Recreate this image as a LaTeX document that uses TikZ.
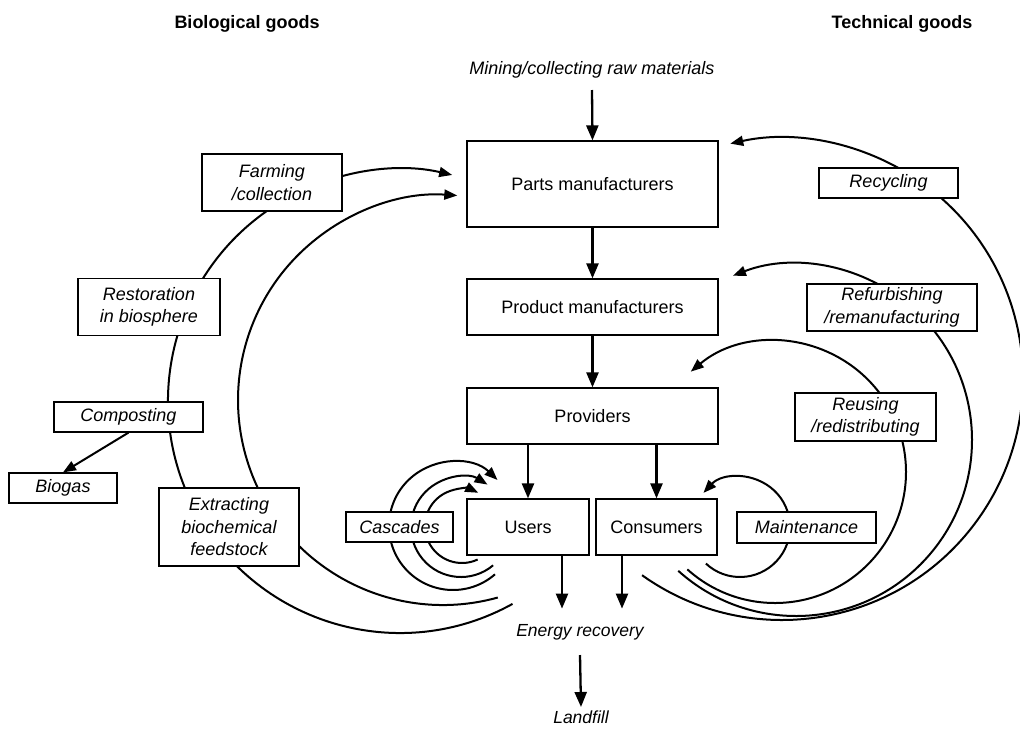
\documentclass[tikz,border=0pt]{standalone}
\usepackage{fontspec}
\setmainfont{Liberation Sans}
\usetikzlibrary{arrows.meta}
\begin{document}
\begin{tikzpicture}[x=1pt,y=-1pt,
  box/.style={draw,line width=1.2pt,fill=white,align=center,inner sep=0pt,font=\fontsize{18}{22.5}\selectfont},
  lbl/.style={box,font=\fontsize{18}{22.5}\selectfont\itshape},
  plain/.style={inner sep=0pt,font=\fontsize{17.5}{21}\selectfont\itshape},
  ttl/.style={inner sep=0pt,font=\fontsize{18}{22}\selectfont\bfseries},
  varrow/.style={line width=2.3pt,-{Triangle[length=15pt,width=12pt]}},
  carrow/.style={line width=2pt,-{Triangle[length=13pt,width=10pt]}},
]
\clip (0,0) rectangle (1020,745);
\fill[white] (0,0) rectangle (1020,745);

% ---- arcs (drawn first, boxes cover them) ----
\path (400,401) ++(61:232) coordinate (bo0);
\draw[carrow] (bo0) arc[start angle=61, end angle=283, radius=232];
\path (443,400) ++(74.5:205) coordinate (bi0);
\draw[carrow] (bi0) arc[start angle=74.5, end angle=274, radius=205];
\path (453,526) ++(49:64) coordinate (ca0);
\draw[carrow] (ca0) arc[start angle=49, end angle=314, radius=64];
\path (461,527) ++(50:50) coordinate (cb0);
\draw[carrow] (cb0) arc[start angle=50, end angle=302, radius=50];
\path (462,526) ++(65:37) coordinate (cc0);
\draw[carrow] (cc0) arc[start angle=65, end angle=296, radius=37];
\path (782,379) ++(125.5:241) coordinate (rc0);
\draw[carrow] (rc0) arc[start angle=125.5, end angle=-102.4, radius=241];
\path (796,440) ++(132:176) coordinate (rf0);
\draw[carrow] (rf0) arc[start angle=132, end angle=-111, radius=176];
\path (775,472) ++(132:131) coordinate (ru0);
\draw[carrow] (ru0) arc[start angle=132, end angle=-130, radius=131];
\path (740,527) ++(133:50) coordinate (mt0);
\draw[carrow] (mt0) arc[start angle=133, end angle=-137, radius=50];

% ---- main column ----
\node[box,minimum width=251,minimum height=86] (parts) at (592.5,184) {Parts manufacturers};
\node[box,minimum width=251,minimum height=56] (product) at (592.5,307) {Product manufacturers};
\node[box,minimum width=251,minimum height=56] (providers) at (592.5,416) {Providers};
\node[box,minimum width=122,minimum height=56] (users) at (528,527) {Users};
\node[box,minimum width=121,minimum height=56] (consumers) at (656.5,527) {Consumers};

% ---- labels on loops ----
\node[lbl,minimum width=140,minimum height=57] (farming) at (272,182.5) {Farming\\/collection};
\node[lbl,minimum width=142,minimum height=57] (restore) at (149,307) {Restoration\\in biosphere};
\node[lbl,minimum width=149,minimum height=30] (compost) at (128.5,417) {Composting};
\node[lbl,minimum width=108,minimum height=30] (biogas) at (63,488) {Biogas};
\node[lbl,minimum width=140,minimum height=78] (extract) at (229,527) {Extracting\\biochemical\\feedstock};
\node[lbl,minimum width=107,minimum height=30] (cascades) at (399.5,527) {Cascades};
\node[lbl,minimum width=139,minimum height=31] (maint) at (806.5,527.5) {Maintenance};
\node[lbl,minimum width=139,minimum height=30] (recycle) at (888.5,183) {Recycling};
\node[lbl,minimum width=170,minimum height=47] (refurb) at (892,307.5) {Refurbishing\\/remanufacturing};
\node[lbl,minimum width=141,minimum height=48] (reuse) at (865.5,417) {Reusing\\/redistributing};

% ---- free texts ----
\node[ttl] (biot) at (247,24) {Biological goods};
\node[ttl] (techt) at (902,24) {Technical goods};
\node[plain,font=\fontsize{18}{22}\selectfont\itshape] (mining) at (592,70) {Mining/collecting raw materials};
\node[plain] (energy) at (580,632) {Energy recovery};
\node[plain] (landfill) at (581,717) {Landfill};

% ---- straight arrows ----
\draw[varrow] ([yshift=-20]mining.center) -- (parts.north);
\draw[varrow] (parts.south) -- (product.north);
\draw[varrow] (product.south) -- (providers.north);
\draw[varrow] (providers.south -| users.north) -- (users.north);
\draw[varrow] (providers.south -| consumers.north) -- (consumers.north);
\draw[varrow] ([xshift=34]users.south) -- ++(0,53);
\draw[varrow] ([xshift=-34.5]consumers.south) -- ++(0,53);
\draw[varrow] ([yshift=-23]energy.center) -- ([yshift=10]landfill.center);
\draw[carrow] (compost.south) -- (biogas.north);
\end{tikzpicture}
\end{document}
